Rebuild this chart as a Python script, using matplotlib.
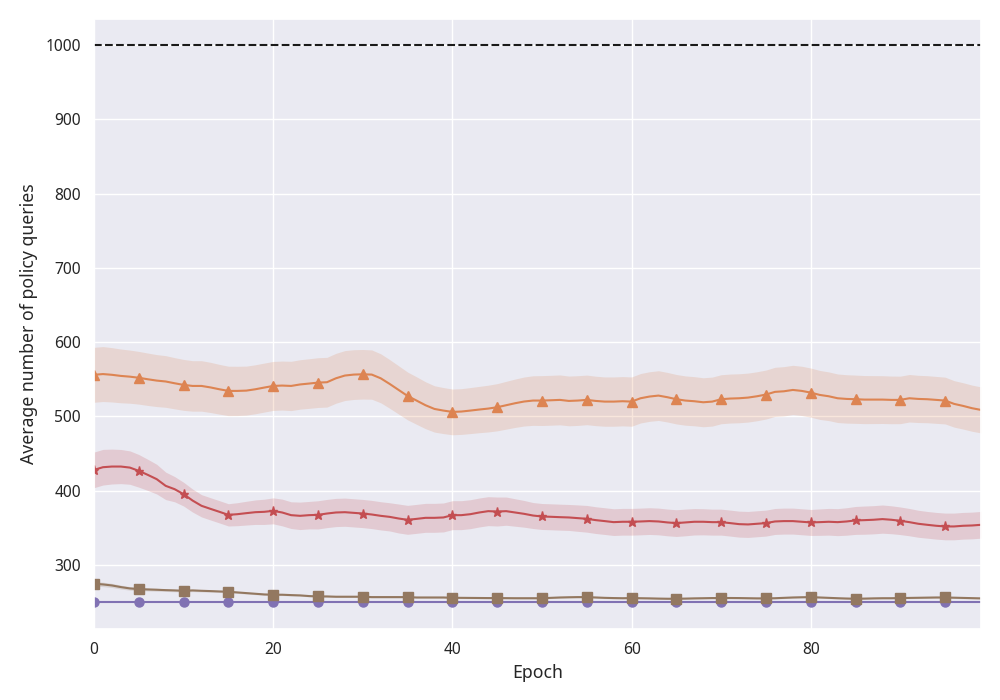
import numpy as np
import matplotlib
matplotlib.use("Agg")
import matplotlib.pyplot as plt
import seaborn as sns

sns.set_theme(style="darkgrid")
plt.rcParams['font.family'] = ['Noto Sans', 'DejaVu Sans']

epochs = np.arange(100)

# orange / triangles
orange_mean = [556, 557, 556, 554.5, 553.5, 552, 550, 548.2, 547, 544.6,
               542.4, 541, 541, 539, 536.5, 534.3, 534.3, 534.7, 536.5, 538.8,
               541, 541.5, 541, 543, 544.2, 545.5, 546, 551.3, 555, 556.3,
               556.7, 556.3, 551.3, 543.7, 535.6, 527.5, 521.3, 515, 510, 507.8,
               506, 506.5, 507.8, 509.2, 510.5, 512.3, 515, 517.7, 520, 521.3,
               521.3, 521.7, 522.2, 520.8, 521.3, 522.2, 520.8, 519.9, 519.9, 520.4,
               519.9, 524.4, 526.7, 528, 525.8, 523.1, 521.3, 520.4, 519, 519.9,
               523.1, 524, 524.4, 525.3, 527.1, 529.4, 533, 533.8, 535.6, 534.3,
               532, 528.9, 527.1, 524.4, 523.5, 523.1, 522.6, 522.6, 522.6, 522.2,
               522.2, 524.4, 523.5, 523.1, 522.2, 521.3, 516.8, 514.1, 511, 508.7]
orange_std = [37, 37, 36.6, 36.2, 35.8, 35.5, 35.3, 35, 34.8, 34.5,
              34.3, 34, 34, 33.8, 33.5, 33.3, 33.2, 33, 33, 33,
              33, 33, 33.2, 33.3, 33.4, 33.5, 33.5, 33.6, 33.6, 33.5,
              33.4, 33.2, 33, 32.8, 32.5, 32.2, 32, 31.6, 31.2, 31,
              30.8, 30.8, 31, 31.2, 31.5, 31.8, 32.2, 32.6, 33, 33.4,
              33.6, 33.6, 33.6, 33.5, 33.5, 33.4, 33.3, 33.2, 33.2, 33.2,
              33.2, 33.3, 33.4, 33.5, 33.4, 33.3, 33.2, 33.1, 33, 33,
              33, 33, 33, 33, 33, 33, 33.1, 33.2, 33.2, 33.2,
              33.1, 33, 32.8, 32.7, 32.6, 32.5, 32.4, 32.3, 32.2, 32.1,
              32, 32, 31.8, 31.7, 31.6, 31.5, 31.3, 31.2, 31.1, 31]

# red / stars
red_mean = [427.9, 431.5, 432.4, 432.4, 431, 426.6, 421.2, 415.4, 406.4, 401.9,
            395.2, 386.6, 379.5, 375.4, 371.4, 367.3, 368.2, 369.6, 370.9, 371.4,
            372.7, 370.5, 366.9, 366, 366.9, 367.3, 369.1, 370.5, 370.9, 370,
            369.1, 367.8, 366, 364.6, 362.4, 360.6, 361.9, 363.3, 363.3, 363.8,
            366.9, 366.9, 368.2, 370.5, 372.3, 371.8, 372.3, 370.5, 368.7, 366.4,
            365.1, 364.7, 364.2, 363.8, 362.9, 362, 360.2, 358.9, 357.5, 358,
            358, 358.4, 358.9, 358.4, 357.1, 356.2, 357.1, 358, 358, 357.5,
            357.5, 356.2, 354.8, 354.4, 355.3, 356.2, 358.4, 358.9, 358.9, 358,
            357.1, 357.5, 358, 357.5, 358.4, 359.8, 360.2, 360.7, 361.6, 360.7,
            359.3, 357.5, 355.3, 353.9, 352.6, 351.7, 351.7, 352.6, 353, 353.9]
red_std = [24, 24, 23.5, 23, 22.5, 22, 21, 20, 18.5, 17,
           16, 15.5, 15, 15, 15, 15, 15.5, 16, 16.5, 17,
           17.5, 18, 18, 18.5, 18.5, 19, 19, 19, 19, 19,
           19, 19, 19, 19, 19.5, 19.5, 19.5, 19.5, 19.5, 19.5,
           19.5, 19.5, 19.5, 19.5, 19.5, 19.5, 19, 18.5, 18, 17.5,
           17.5, 17.5, 17.5, 17.5, 17.8, 18, 18, 18, 18, 18,
           18, 18, 18, 18, 18, 18, 18, 17.8, 17.6, 17.5,
           17.5, 17.5, 17.5, 17.5, 17.5, 17.5, 17.5, 17.5, 17.5, 17.5,
           17.5, 17.8, 18, 18.2, 18.5, 18.8, 19, 19, 19, 18.8,
           18.6, 18.4, 18.2, 18, 18, 18, 18, 18, 18, 18]

# brown / squares
brown_mean = [274.5, 273.6, 272.2, 270, 268.2, 267.3, 266.8, 266.4, 265.9, 265.5,
              265, 265.5, 265, 264.6, 264.1, 263.7, 262.8, 261.9, 261, 260.1,
              259.7, 259.7, 259.2, 258.8, 257.9, 257.4, 257.4, 257, 257, 257,
              257, 256.5, 256.5, 256.5, 256.5, 256.5, 256, 256, 256, 256,
              255.6, 255.5, 255.4, 255.3, 255.2, 255.2, 255.1, 255, 255, 255,
              255, 255.5, 256, 256.3, 256.5, 256.5, 256, 255.5, 255.2, 255,
              255.2, 255, 254.8, 254.5, 254.3, 254.3, 254.5, 254.8, 255, 255.2,
              255.2, 255.3, 255.2, 255, 254.8, 254.8, 255, 255.5, 256, 256.3,
              256.5, 256, 255.5, 255, 254.6, 254.3, 254.5, 254.8, 255, 255,
              255.2, 255.4, 255.6, 255.8, 256, 256, 255.7, 255.4, 255.1, 254.8]
brown_std = [3, 3, 2.8, 2.6, 2.4, 2.2, 2, 2, 1.8, 1.8,
             1.6, 1.6, 1.5, 1.5, 1.4, 1.4, 1.3, 1.3, 1.2, 1.2,
             1.2, 1.1, 1.1, 1, 1, 1, 1, 1, 1, 1,
             1, 1, 1, 1, 1, 1, 1, 1, 1, 1,
             1, 1, 1, 1, 1, 1, 1, 1, 1, 1,
             1, 1, 1, 1, 1, 1, 1, 1, 1, 1,
             1, 1, 1, 1, 1, 1, 1, 1, 1, 1,
             1, 1, 1, 1, 1, 1, 1, 1, 1, 1,
             1, 1, 1, 1, 1, 1, 1, 1, 1, 1,
             1, 1, 1, 1, 1, 1, 1, 1, 1, 1]

# purple / circles
purple_mean = [250] * 100

budget = 1000

pal = sns.color_palette("deep")
c_orange, c_red, c_purple, c_brown = pal[1], pal[3], pal[4], pal[5]

fig = plt.figure(figsize=(10, 7), dpi=100)
ax = fig.add_axes([0.094, 0.1014, 0.887, 0.8716])

ax.axhline(budget, color='k', linestyle='--', linewidth=1.5)

series = [
    (orange_mean, orange_std, c_orange, '^'),
    (red_mean, red_std, c_red, '*'),
    (purple_mean, None, c_purple, 'o'),
    (brown_mean, brown_std, c_brown, 's'),
]
for mean, std, col, mk in series:
    mean = np.array(mean)
    ax.plot(epochs, mean, color=col, marker=mk, markevery=5, linewidth=1.5, markersize=6.5)
    if std is not None:
        std = np.array(std)
        ax.fill_between(epochs, mean - std, mean + std, color=col, alpha=0.2, linewidth=0)

ax.set_xlim(0, 99)
ax.set_ylim(213.5, 1035.5)
ax.set_xticks([0, 20, 40, 60, 80])
ax.set_yticks([300, 400, 500, 600, 700, 800, 900, 1000])
ax.tick_params(labelsize=11.2)
ax.set_xlabel("Epoch", fontsize=12.7)
ax.set_ylabel("Average number of policy queries", fontsize=12.7, labelpad=5)

fig.savefig("out.png")
